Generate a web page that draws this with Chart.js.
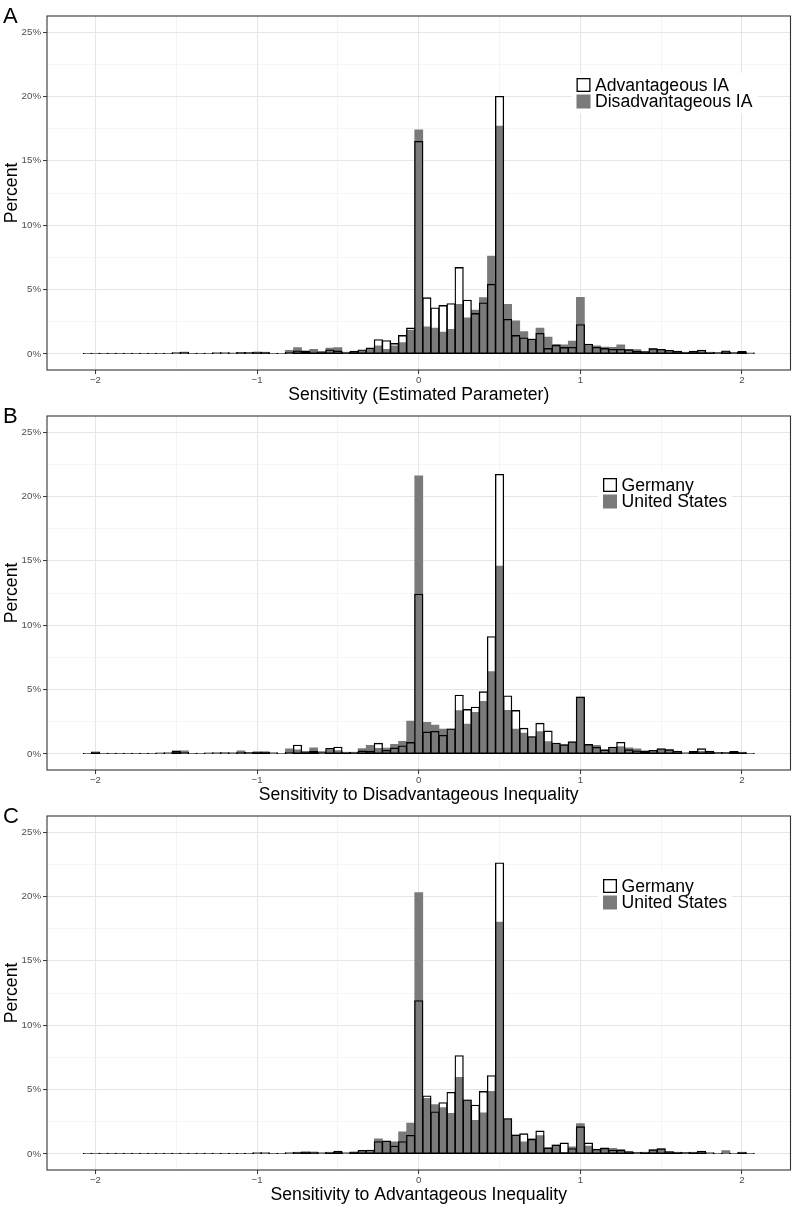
<!DOCTYPE html>
<html>
<head>
<meta charset="utf-8">
<script src="https://cdn.jsdelivr.net/npm/chart.js@4.4.1/dist/chart.umd.min.js"></script>
<style>
  html, body { margin: 0; padding: 0; background: #fff; }
  body { width: 792px; height: 1208px; position: relative; overflow: hidden; }
  .panel { position: absolute; left: 0; width: 792px; }
</style>
</head>
<body>
<div class="panel" style="top:0;height:406px"><canvas id="chartA"></canvas></div>
<div class="panel" style="top:400px;height:406px"><canvas id="chartB"></canvas></div>
<div class="panel" style="top:800px;height:408px"><canvas id="chartC"></canvas></div>
<script>
// bin centres (width 0.05)
const binCenters = [
  -2.05, -2, -1.95, -1.9, -1.85, -1.8, -1.75, -1.7, -1.65, -1.6, -1.55, -1.5, -1.45, -1.4,
  -1.35, -1.3, -1.25, -1.2, -1.15, -1.1, -1.05, -1, -0.95, -0.9, -0.85, -0.8, -0.75, -0.7,
  -0.65, -0.6, -0.55, -0.5, -0.45, -0.4, -0.35, -0.3, -0.25, -0.2, -0.15, -0.1, -0.05, 0,
  0.05, 0.1, 0.15, 0.2, 0.25, 0.3, 0.35, 0.4, 0.45, 0.5, 0.55, 0.6, 0.65, 0.7, 0.75, 0.8,
  0.85, 0.9, 0.95, 1, 1.05, 1.1, 1.15, 1.2, 1.25, 1.3, 1.35, 1.4, 1.45, 1.5, 1.55, 1.6,
  1.65, 1.7, 1.75, 1.8, 1.85, 1.9, 1.95, 2, 2.05
];

// A: percent per bin
const advantageousA = [
  0.05, 0.05, 0.05, 0.05, 0.05, 0.05, 0.05, 0.05, 0.05, 0.05, 0.05, 0.08, 0.1, 0.05, 0.05, 0.05, 0.08, 0.08, 0.08, 0.1, 0.1, 0.12, 0.12, 0.05, 0.05,
  0.1, 0.23, 0.18, 0.13, 0.15, 0.3, 0.22, 0.12, 0.2, 0.3, 0.45, 1.1, 1.02, 0.8, 1.42, 2.0,
  16.5, 4.35, 3.57, 3.75, 3.9, 6.7, 4.17, 3.13, 3.96, 5.4, 20.0, 2.67, 1.42, 1.24, 1.14, 1.58, 0.41, 0.65, 0.49, 0.5, 2.26,
  0.75, 0.5, 0.41, 0.34, 0.34, 0.31, 0.2, 0.16, 0.39, 0.34, 0.26, 0.2, 0.13, 0.2, 0.28, 0.13, 0.1, 0.23, 0.1, 0.18, 0.08
];
const disadvantageousA = [
  0.05, 0.05, 0.05, 0.05, 0.05, 0.05, 0.05, 0.05, 0.05, 0.05, 0.05, 0.1, 0.15, 0.05, 0.05, 0.05, 0.08, 0.08, 0.05, 0.1, 0.08, 0.15, 0.12, 0.05, 0.05,
  0.28, 0.5, 0.23, 0.36, 0.18, 0.46, 0.5, 0.1, 0.15, 0.25, 0.35, 0.62, 0.36, 0.62, 0.88, 1.85,
  17.4, 2.1, 2.0, 1.7, 1.9, 3.86, 2.8, 3.4, 4.37, 7.6, 17.7, 3.86, 2.56, 1.73, 1.15, 2.0, 1.3, 0.75, 0.7, 1.0, 4.4,
  0.7, 0.62, 0.54, 0.52, 0.7, 0.36, 0.34, 0.18, 0.44, 0.31, 0.23, 0.18, 0.13, 0.15, 0.23, 0.1, 0.08, 0.2, 0.08, 0.15, 0.05
];

// B: disadvantageous inequality by country
const germanyB = [
  0.05, 0.15, 0.05, 0.05, 0.05, 0.05, 0.05, 0.05, 0.05, 0.05, 0.08, 0.2, 0.1, 0.05, 0.05, 0.05, 0.08, 0.08, 0.05, 0.1, 0.1, 0.15, 0.15, 0.08, 0.05,
  0.1, 0.67, 0.15, 0.18, 0.1, 0.41, 0.52, 0.13, 0.12, 0.22, 0.2, 0.82, 0.26, 0.45, 0.62, 0.88,
  12.4, 1.69, 1.74, 1.43, 1.93, 4.56, 3.44, 3.62, 4.82, 9.1, 21.7, 4.5, 3.36, 1.98, 1.33, 2.37, 1.77, 0.83, 0.7, 0.93, 4.4,
  0.72, 0.5, 0.29, 0.52, 0.89, 0.31, 0.23, 0.18, 0.26, 0.39, 0.31, 0.2, 0.08, 0.18, 0.39, 0.2, 0.1, 0.1, 0.18, 0.13, 0.05
];
const unitedStatesB = [
  0.05, 0.08, 0.05, 0.05, 0.05, 0.05, 0.05, 0.05, 0.05, 0.08, 0.08, 0.23, 0.23, 0.05, 0.05, 0.08, 0.08, 0.1, 0.1, 0.23, 0.1, 0.15, 0.15, 0.08, 0.05,
  0.39, 0.31, 0.18, 0.47, 0.18, 0.28, 0.25, 0.1, 0.1, 0.41, 0.66, 0.44, 0.45, 0.74, 0.98, 2.55,
  21.6, 2.45, 2.24, 1.93, 1.93, 3.36, 2.32, 3.23, 4.09, 6.4, 14.6, 3.39, 1.93, 1.61, 1.33, 1.74, 0.96, 0.83, 0.7, 0.96, 4.43,
  0.72, 0.66, 0.36, 0.52, 0.57, 0.47, 0.39, 0.23, 0.26, 0.34, 0.34, 0.08, 0.08, 0.15, 0.2, 0.15, 0.1, 0.1, 0.13, 0.13, 0.05
];

// C: advantageous inequality by country
const germanyC = [
  0.05, 0.05, 0.05, 0.05, 0.05, 0.05, 0.05, 0.05, 0.05, 0.05, 0.05, 0.05, 0.05, 0.05, 0.05, 0.05, 0.05, 0.05, 0.05, 0.05, 0.05, 0.08, 0.08, 0.05, 0.05,
  0.08, 0.12, 0.15, 0.12, 0.08, 0.13, 0.2, 0.08, 0.15, 0.26, 0.29, 0.94, 0.99, 0.6, 0.94, 1.43,
  11.9, 4.5, 3.26, 3.98, 4.77, 7.63, 4.19, 3.78, 4.84, 6.07, 22.6, 2.73, 1.46, 1.56, 1.12, 1.77, 0.44, 0.68, 0.84, 0.4, 2.1,
  0.84, 0.35, 0.42, 0.29, 0.26, 0.16, 0.1, 0.13, 0.31, 0.39, 0.16, 0.13, 0.1, 0.13, 0.21, 0.08, 0.05, 0.05, 0.05, 0.13, 0.05
];
const unitedStatesC = [
  0.05, 0.05, 0.05, 0.05, 0.05, 0.05, 0.05, 0.05, 0.05, 0.05, 0.05, 0.05, 0.05, 0.05, 0.05, 0.05, 0.05, 0.05, 0.05, 0.05, 0.05, 0.08, 0.08, 0.05, 0.05,
  0.08, 0.12, 0.15, 0.15, 0.08, 0.1, 0.15, 0.08, 0.12, 0.2, 0.2, 1.17, 0.95, 0.94, 1.72, 2.4,
  20.3, 4.32, 3.83, 3.6, 3.15, 5.94, 4.19, 2.6, 3.2, 4.87, 18.0, 2.73, 1.46, 0.94, 1.2, 1.43, 0.52, 0.68, 0.13, 0.55, 2.36,
  0.6, 0.35, 0.47, 0.44, 0.36, 0.16, 0.1, 0.13, 0.31, 0.39, 0.16, 0.13, 0.1, 0.13, 0.18, 0.08, 0.05, 0.25, 0.05, 0.13, 0.05
];

const xTicks = [-2, -1.5, -1, -0.5, 0, 0.5, 1, 1.5, 2];
const yTicks = [0, 2.5, 5, 7.5, 10, 12.5, 15, 17.5, 20, 22.5, 25];

const FONT = '"Liberation Sans", Arial, Helvetica, sans-serif';
const GREY = "#7a7a7a";

function toPoints(vals) {
  return binCenters.map((x, i) => ({ x: x, y: vals[i] }));
}

function isMajor(v, step) {
  return Math.abs(v / step - Math.round(v / step)) < 1e-6;
}

const panelDecor = {
  id: "panelDecor",
  afterDraw(chart, args, opts) {
    const { ctx, chartArea: a } = chart;
    ctx.save();
    ctx.strokeStyle = "#333333";
    ctx.lineWidth = 1.1;
    ctx.strokeRect(a.left, a.top, a.right - a.left, a.bottom - a.top);

    ctx.fillStyle = "#000";
    ctx.font = "22px " + FONT;
    ctx.textAlign = "left";
    ctx.textBaseline = "alphabetic";
    ctx.fillText(opts.letter, 3, 23);

    // legend
    const labels = [chart.data.datasets[2].label, chart.data.datasets[1].label];
    ctx.font = "17.6px " + FONT;
    const textW = Math.max(...labels.map(l => ctx.measureText(l).width));
    const bx = opts.legendX, by = opts.legendY, size = 14, gap = 16.5;
    ctx.fillStyle = "#fff";
    ctx.fillRect(bx - 5, by - 5, size + 5 + textW + 10, gap + size + 10);

    ctx.fillStyle = "#fff";
    ctx.fillRect(bx, by, size, size);
    ctx.strokeStyle = "#000";
    ctx.lineWidth = 1.3;
    ctx.strokeRect(bx + 0.65, by + 0.65, size - 1.3, size - 1.3);
    ctx.fillStyle = GREY;
    ctx.fillRect(bx, by + gap, size, size);

    ctx.fillStyle = "#000";
    ctx.textBaseline = "middle";
    ctx.fillText(labels[0], bx + 18.5, by + size / 2 + 1);
    ctx.fillText(labels[1], bx + 18.5, by + gap + size / 2 + 1);
    ctx.restore();
  }
};

function barSet(label, vals, extra) {
  return Object.assign({
    label: label,
    data: toPoints(vals),
    grouped: false,
    barPercentage: 1,
    categoryPercentage: 1,
    borderWidth: 0
  }, extra);
}

function makePanel(id, letter, xTitle, outlineLabel, fillLabel, outlineVals, fillVals, legendX, legendY, padBottom) {
  const canvas = document.getElementById(id);
  return new Chart(canvas, {
    type: "bar",
    data: {
      datasets: [
        barSet(outlineLabel, outlineVals, { backgroundColor: "#ffffff", order: 3 }),
        barSet(fillLabel, fillVals, { backgroundColor: GREY, order: 2 }),
        // outline drawn last; inflated so neighbouring edges share one line
        barSet(outlineLabel, outlineVals, {
          backgroundColor: "rgba(0,0,0,0)",
          borderColor: "#000000",
          borderWidth: 0.25,
          inflateAmount: 0.55,
          borderSkipped: false,
          order: 1
        })
      ]
    },
    options: {
      responsive: true,
      maintainAspectRatio: false,
      animation: false,
      layout: { padding: { left: 0, right: 1.5, top: 16, bottom: padBottom } },
      plugins: {
        legend: { display: false },
        tooltip: { enabled: false },
        panelDecor: { letter: letter, legendX: legendX, legendY: legendY }
      },
      scales: {
        x: {
          type: "linear",
          min: -2.3,
          max: 2.3,
          offset: false,
          afterBuildTicks: s => { s.ticks = xTicks.map(v => ({ value: v })); },
          afterFit: s => { s.height = 36; },
          ticks: {
            autoSkip: false,
            maxRotation: 0,
            padding: 1,
            color: "#4d4d4d",
            font: { family: FONT, size: 9.7 },
            callback: v => isMajor(v, 1) ? (v < 0 ? "\u2212" + Math.abs(v) : String(v)) : ""
          },
          grid: {
            offset: false,
            color: c => isMajor(c.tick.value, 1) ? "#e6e6e6" : "#efefef",
            lineWidth: c => isMajor(c.tick.value, 1) ? 1.1 : 0.6,
            tickLength: 4,
            tickColor: c => isMajor(c.tick.value, 1) ? "#333333" : "rgba(0,0,0,0)",
            tickWidth: 1
          },
          border: { display: false },
          title: {
            display: true,
            text: xTitle,
            color: "#000",
            font: { family: FONT, size: 17.6 },
            padding: { top: 0, bottom: 0 }
          }
        },
        y: {
          min: -1.25,
          max: 26.25,
          afterBuildTicks: s => { s.ticks = yTicks.map(v => ({ value: v })); },
          afterFit: s => { s.width = 47; },
          ticks: {
            autoSkip: false,
            padding: 2,
            color: "#4d4d4d",
            font: { family: FONT, size: 9.7 },
            callback: v => isMajor(v, 5) ? v + "%" : ""
          },
          grid: {
            color: c => isMajor(c.tick.value, 5) ? "#e6e6e6" : "#efefef",
            lineWidth: c => isMajor(c.tick.value, 5) ? 1.1 : 0.6,
            tickLength: 4,
            tickColor: c => isMajor(c.tick.value, 5) ? "#333333" : "rgba(0,0,0,0)",
            tickWidth: 1
          },
          border: { display: false },
          title: {
            display: true,
            text: "Percent",
            color: "#000",
            font: { family: FONT, size: 17.6 },
            padding: { top: 1.5, bottom: 0 }
          }
        }
      }
    },
    plugins: [panelDecor]
  });
}

makePanel("chartA", "A", "Sensitivity (Estimated Parameter)", "Advantageous IA", "Disadvantageous IA",
  advantageousA, disadvantageousA, 576.5, 78, 0);
makePanel("chartB", "B", "Sensitivity to Disadvantageous Inequality", "Germany", "United States",
  germanyB, unitedStatesB, 603, 78, 0);
makePanel("chartC", "C", "Sensitivity to Advantageous Inequality", "Germany", "United States",
  germanyC, unitedStatesC, 603, 79, 2);
</script>
</body>
</html>
